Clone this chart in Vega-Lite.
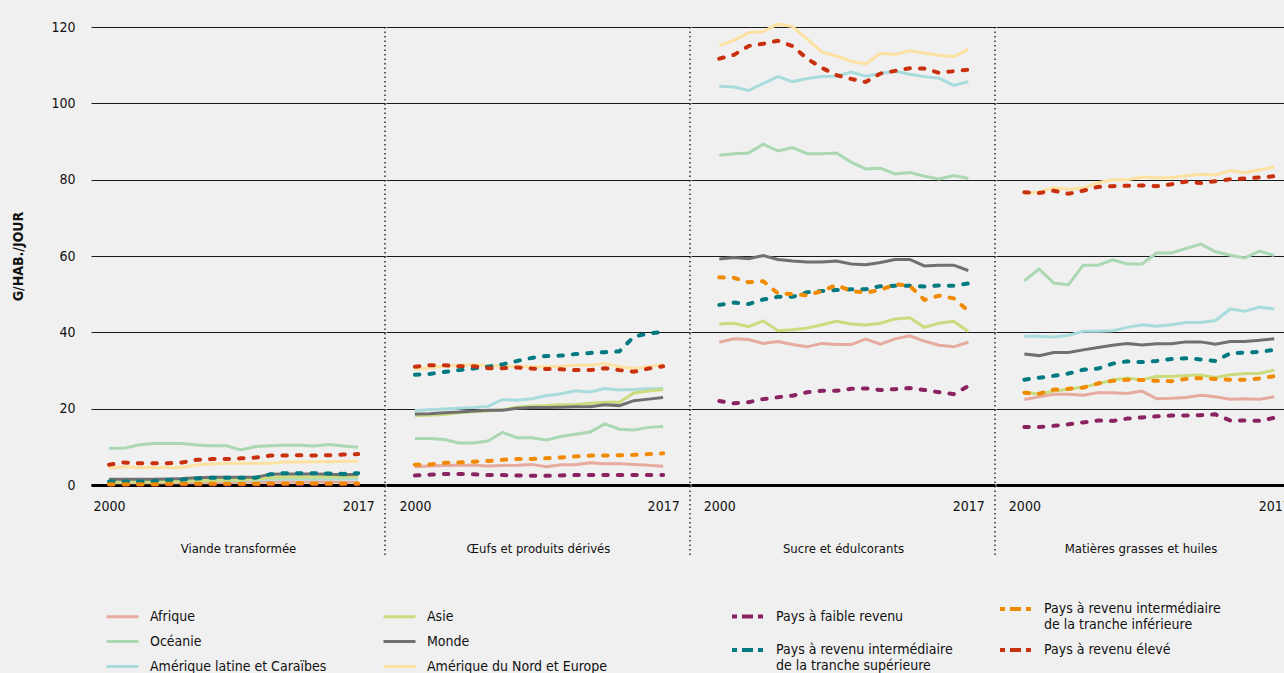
{
"$schema": "https://vega.github.io/schema/vega-lite/v6.json",
"background": "#f0f0f0",
"padding": {"left": 11, "top": 17, "right": -6, "bottom": 0},
"config": {
  "font": "DejaVu Sans Condensed, Roboto, sans-serif",
  "view": {"stroke": null},
  "axis": {"labelFont": "DejaVu Sans Condensed, Roboto, sans-serif", "titleFont": "DejaVu Sans Condensed, Roboto, sans-serif", "labelColor": "#111", "titleColor": "#111", "labelFontSize": 14},
  "axisY": {"grid": true, "gridColor": "#1a1a1a", "gridWidth": 1, "ticks": false, "domain": false, "labelPadding": 16},
  "axisX": {"grid": false, "ticks": false, "domain": true, "domainColor": "#000", "domainWidth": 3, "labelPadding": 14, "titlePadding": 29, "titleFontWeight": "normal", "titleFontSize": 13, "labelFlush": false},
  "legend": {"labelFont": "DejaVu Sans Condensed, Roboto, sans-serif", "labelFontSize": 14, "labelColor": "#111", "symbolType": "stroke", "symbolSize": 1024, "labelLimit": 400}
},
"datasets": {
  "series": [
    {"key": "afrique", "label": "Afrique", "group": "region"},
    {"key": "oceanie", "label": "Océanie", "group": "region"},
    {"key": "amlat", "label": "Amérique latine et Caraïbes", "group": "region"},
    {"key": "asie", "label": "Asie", "group": "region"},
    {"key": "monde", "label": "Monde", "group": "region"},
    {"key": "amnord", "label": "Amérique du Nord et Europe", "group": "region"},
    {"key": "faible", "label": "Pays à faible revenu", "group": "revenu"},
    {"key": "intsup", "label": "Pays à revenu intermédiaire de la tranche supérieure", "group": "revenu"},
    {"key": "intinf", "label": "Pays à revenu intermédiaire de la tranche inférieure", "group": "revenu"},
    {"key": "eleve", "label": "Pays à revenu élevé", "group": "revenu"}
  ],
  "vals": [
{"panel":"viande","year":2000,"afrique":0.6,"oceanie":9.6,"amlat":0.9,"asie":0.7,"monde":1.5,"amnord":4.4,"faible":0.1,"intsup":0.9,"intinf":0.2,"eleve":5.3},
{"panel":"viande","year":2001,"afrique":0.6,"oceanie":9.6,"amlat":0.9,"asie":0.7,"monde":1.5,"amnord":4.8,"faible":0.1,"intsup":0.9,"intinf":0.2,"eleve":5.9},
{"panel":"viande","year":2002,"afrique":0.6,"oceanie":10.5,"amlat":0.9,"asie":0.8,"monde":1.5,"amnord":4.6,"faible":0.1,"intsup":0.9,"intinf":0.2,"eleve":5.7},
{"panel":"viande","year":2003,"afrique":0.6,"oceanie":10.9,"amlat":1.0,"asie":0.8,"monde":1.5,"amnord":4.6,"faible":0.1,"intsup":1.0,"intinf":0.2,"eleve":5.7},
{"panel":"viande","year":2004,"afrique":0.6,"oceanie":10.9,"amlat":1.0,"asie":0.9,"monde":1.6,"amnord":4.6,"faible":0.1,"intsup":1.3,"intinf":0.3,"eleve":5.7},
{"panel":"viande","year":2005,"afrique":0.6,"oceanie":10.9,"amlat":1.1,"asie":1.0,"monde":1.7,"amnord":4.6,"faible":0.1,"intsup":1.4,"intinf":0.3,"eleve":5.9},
{"panel":"viande","year":2006,"afrique":0.6,"oceanie":10.5,"amlat":1.1,"asie":1.1,"monde":1.9,"amnord":5.3,"faible":0.1,"intsup":1.7,"intinf":0.3,"eleve":6.6},
{"panel":"viande","year":2007,"afrique":0.6,"oceanie":10.3,"amlat":1.2,"asie":1.2,"monde":2.0,"amnord":5.5,"faible":0.1,"intsup":1.9,"intinf":0.3,"eleve":6.8},
{"panel":"viande","year":2008,"afrique":0.7,"oceanie":10.3,"amlat":1.2,"asie":1.3,"monde":2.0,"amnord":5.7,"faible":0.1,"intsup":1.9,"intinf":0.3,"eleve":6.8},
{"panel":"viande","year":2009,"afrique":0.7,"oceanie":9.2,"amlat":1.2,"asie":1.4,"monde":2.0,"amnord":5.7,"faible":0.1,"intsup":1.9,"intinf":0.3,"eleve":7.0},
{"panel":"viande","year":2010,"afrique":0.7,"oceanie":10.1,"amlat":1.3,"asie":1.5,"monde":2.0,"amnord":5.7,"faible":0.1,"intsup":1.9,"intinf":0.3,"eleve":7.2},
{"panel":"viande","year":2011,"afrique":0.7,"oceanie":10.3,"amlat":1.5,"asie":1.9,"monde":2.8,"amnord":5.7,"faible":0.1,"intsup":2.8,"intinf":0.4,"eleve":7.7},
{"panel":"viande","year":2012,"afrique":0.8,"oceanie":10.4,"amlat":1.6,"asie":2.0,"monde":2.9,"amnord":6.0,"faible":0.2,"intsup":3.1,"intinf":0.4,"eleve":7.7},
{"panel":"viande","year":2013,"afrique":0.8,"oceanie":10.4,"amlat":1.6,"asie":2.0,"monde":2.9,"amnord":6.0,"faible":0.2,"intsup":3.1,"intinf":0.5,"eleve":7.8},
{"panel":"viande","year":2014,"afrique":0.8,"oceanie":10.2,"amlat":1.6,"asie":2.0,"monde":2.9,"amnord":6.1,"faible":0.2,"intsup":3.1,"intinf":0.4,"eleve":7.7},
{"panel":"viande","year":2015,"afrique":0.8,"oceanie":10.6,"amlat":1.6,"asie":2.1,"monde":2.8,"amnord":6.1,"faible":0.2,"intsup":3.0,"intinf":0.4,"eleve":7.8},
{"panel":"viande","year":2016,"afrique":0.7,"oceanie":10.2,"amlat":1.6,"asie":2.1,"monde":2.7,"amnord":6.2,"faible":0.2,"intsup":2.9,"intinf":0.4,"eleve":8.0},
{"panel":"viande","year":2017,"afrique":0.7,"oceanie":9.9,"amlat":1.6,"asie":2.2,"monde":2.8,"amnord":6.2,"faible":0.2,"intsup":3.1,"intinf":0.4,"eleve":8.1},
{"panel":"oeufs","year":2000,"afrique":4.8,"oceanie":12.2,"amlat":19.5,"asie":18.2,"monde":18.6,"amnord":30.3,"faible":2.5,"intsup":28.9,"intinf":5.3,"eleve":31.0},
{"panel":"oeufs","year":2001,"afrique":5.0,"oceanie":12.2,"amlat":19.7,"asie":18.3,"monde":18.7,"amnord":30.7,"faible":2.7,"intsup":29.1,"intinf":5.4,"eleve":31.4},
{"panel":"oeufs","year":2002,"afrique":5.1,"oceanie":11.9,"amlat":19.9,"asie":18.5,"monde":18.9,"amnord":31.1,"faible":2.9,"intsup":29.6,"intinf":5.8,"eleve":31.4},
{"panel":"oeufs","year":2003,"afrique":5.2,"oceanie":11.0,"amlat":20.1,"asie":18.9,"monde":19.1,"amnord":31.4,"faible":2.9,"intsup":30.1,"intinf":5.9,"eleve":31.1},
{"panel":"oeufs","year":2004,"afrique":5.2,"oceanie":11.0,"amlat":20.3,"asie":19.2,"monde":19.4,"amnord":31.6,"faible":2.8,"intsup":30.5,"intinf":6.1,"eleve":31.1},
{"panel":"oeufs","year":2005,"afrique":5.0,"oceanie":11.5,"amlat":20.6,"asie":19.4,"monde":19.6,"amnord":31.3,"faible":2.6,"intsup":31.0,"intinf":6.3,"eleve":30.6},
{"panel":"oeufs","year":2006,"afrique":5.1,"oceanie":13.8,"amlat":22.4,"asie":19.7,"monde":19.6,"amnord":31.1,"faible":2.6,"intsup":31.6,"intinf":6.6,"eleve":30.6},
{"panel":"oeufs","year":2007,"afrique":5.2,"oceanie":12.4,"amlat":22.2,"asie":20.4,"monde":20.1,"amnord":31.1,"faible":2.5,"intsup":32.5,"intinf":6.8,"eleve":30.8},
{"panel":"oeufs","year":2008,"afrique":5.4,"oceanie":12.4,"amlat":22.6,"asie":20.7,"monde":20.3,"amnord":31.0,"faible":2.4,"intsup":33.3,"intinf":6.8,"eleve":30.5},
{"panel":"oeufs","year":2009,"afrique":4.8,"oceanie":11.8,"amlat":23.4,"asie":20.8,"monde":20.3,"amnord":31.0,"faible":2.4,"intsup":33.8,"intinf":7.0,"eleve":30.4},
{"panel":"oeufs","year":2010,"afrique":5.3,"oceanie":12.7,"amlat":23.9,"asie":21.0,"monde":20.4,"amnord":31.1,"faible":2.5,"intsup":33.9,"intinf":7.2,"eleve":30.3},
{"panel":"oeufs","year":2011,"afrique":5.3,"oceanie":13.3,"amlat":24.7,"asie":21.1,"monde":20.5,"amnord":31.4,"faible":2.6,"intsup":34.3,"intinf":7.5,"eleve":30.1},
{"panel":"oeufs","year":2012,"afrique":5.8,"oceanie":13.9,"amlat":24.4,"asie":21.4,"monde":20.5,"amnord":31.4,"faible":2.6,"intsup":34.6,"intinf":7.7,"eleve":30.1},
{"panel":"oeufs","year":2013,"afrique":5.6,"oceanie":16.0,"amlat":25.3,"asie":21.7,"monde":21.0,"amnord":31.8,"faible":2.6,"intsup":34.8,"intinf":7.7,"eleve":30.6},
{"panel":"oeufs","year":2014,"afrique":5.6,"oceanie":14.6,"amlat":24.9,"asie":21.7,"monde":20.8,"amnord":31.0,"faible":2.6,"intsup":35.0,"intinf":7.8,"eleve":30.1},
{"panel":"oeufs","year":2015,"afrique":5.4,"oceanie":14.4,"amlat":25.0,"asie":24.1,"monde":22.1,"amnord":30.5,"faible":2.6,"intsup":38.9,"intinf":7.9,"eleve":29.7},
{"panel":"oeufs","year":2016,"afrique":5.2,"oceanie":15.1,"amlat":25.2,"asie":24.6,"monde":22.5,"amnord":31.0,"faible":2.6,"intsup":39.7,"intinf":8.1,"eleve":30.5},
{"panel":"oeufs","year":2017,"afrique":4.9,"oceanie":15.3,"amlat":25.3,"asie":25.0,"monde":22.9,"amnord":31.6,"faible":2.6,"intsup":40.1,"intinf":8.3,"eleve":31.1},
{"panel":"sucre","year":2000,"afrique":37.4,"oceanie":86.4,"amlat":104.5,"asie":42.2,"monde":59.2,"amnord":115.2,"faible":22.0,"intsup":47.2,"intinf":54.4,"eleve":111.7},
{"panel":"sucre","year":2001,"afrique":38.3,"oceanie":86.8,"amlat":104.3,"asie":42.4,"monde":59.6,"amnord":116.5,"faible":21.4,"intsup":47.8,"intinf":54.3,"eleve":112.7},
{"panel":"sucre","year":2002,"afrique":38.1,"oceanie":87.0,"amlat":103.4,"asie":41.5,"monde":59.3,"amnord":118.5,"faible":21.7,"intsup":47.4,"intinf":53.1,"eleve":115.0},
{"panel":"sucre","year":2003,"afrique":37.1,"oceanie":89.3,"amlat":105.2,"asie":43.0,"monde":60.1,"amnord":118.8,"faible":22.5,"intsup":48.6,"intinf":53.4,"eleve":115.6},
{"panel":"sucre","year":2004,"afrique":37.6,"oceanie":87.5,"amlat":107.0,"asie":40.4,"monde":59.1,"amnord":120.8,"faible":23.0,"intsup":49.3,"intinf":50.2,"eleve":116.4},
{"panel":"sucre","year":2005,"afrique":36.8,"oceanie":88.4,"amlat":105.7,"asie":40.7,"monde":58.7,"amnord":120.1,"faible":23.4,"intsup":49.3,"intinf":50.0,"eleve":115.0},
{"panel":"sucre","year":2006,"afrique":36.2,"oceanie":86.8,"amlat":106.5,"asie":41.1,"monde":58.4,"amnord":116.8,"faible":24.3,"intsup":50.5,"intinf":49.7,"eleve":111.7},
{"panel":"sucre","year":2007,"afrique":37.1,"oceanie":86.8,"amlat":107.0,"asie":42.0,"monde":58.4,"amnord":113.4,"faible":24.7,"intsup":50.8,"intinf":50.8,"eleve":109.3},
{"panel":"sucre","year":2008,"afrique":36.8,"oceanie":87.0,"amlat":107.1,"asie":42.9,"monde":58.7,"amnord":112.4,"faible":24.7,"intsup":51.1,"intinf":52.4,"eleve":107.4},
{"panel":"sucre","year":2009,"afrique":36.8,"oceanie":84.6,"amlat":108.2,"asie":42.2,"monde":57.9,"amnord":111.0,"faible":25.2,"intsup":51.3,"intinf":50.8,"eleve":106.4},
{"panel":"sucre","year":2010,"afrique":38.2,"oceanie":82.8,"amlat":107.1,"asie":41.9,"monde":57.7,"amnord":110.3,"faible":25.3,"intsup":51.3,"intinf":50.4,"eleve":105.6},
{"panel":"sucre","year":2011,"afrique":36.9,"oceanie":83.0,"amlat":107.8,"asie":42.4,"monde":58.3,"amnord":113.1,"faible":24.9,"intsup":52.1,"intinf":51.1,"eleve":107.8},
{"panel":"sucre","year":2012,"afrique":38.3,"oceanie":81.5,"amlat":108.4,"asie":43.5,"monde":59.1,"amnord":112.8,"faible":25.1,"intsup":52.2,"intinf":52.6,"eleve":108.5},
{"panel":"sucre","year":2013,"afrique":39.1,"oceanie":81.9,"amlat":107.6,"asie":43.8,"monde":59.1,"amnord":113.8,"faible":25.4,"intsup":52.2,"intinf":52.2,"eleve":109.2},
{"panel":"sucre","year":2014,"afrique":37.7,"oceanie":80.9,"amlat":107.0,"asie":41.3,"monde":57.4,"amnord":113.2,"faible":24.9,"intsup":52.0,"intinf":48.5,"eleve":109.1},
{"panel":"sucre","year":2015,"afrique":36.6,"oceanie":80.2,"amlat":106.6,"asie":42.4,"monde":57.6,"amnord":112.6,"faible":24.3,"intsup":52.3,"intinf":49.6,"eleve":108.0},
{"panel":"sucre","year":2016,"afrique":36.2,"oceanie":81.1,"amlat":104.7,"asie":42.9,"monde":57.6,"amnord":112.2,"faible":23.8,"intsup":52.2,"intinf":48.9,"eleve":108.4},
{"panel":"sucre","year":2017,"afrique":37.4,"oceanie":80.3,"amlat":105.7,"asie":40.2,"monde":56.2,"amnord":114.2,"faible":25.9,"intsup":52.8,"intinf":45.6,"eleve":108.8},
{"panel":"graisses","year":2000,"afrique":22.4,"oceanie":53.5,"amlat":39.0,"asie":24.2,"monde":34.3,"amnord":76.4,"faible":15.2,"intsup":27.6,"intinf":24.2,"eleve":76.7},
{"panel":"graisses","year":2001,"afrique":23.1,"oceanie":56.6,"amlat":39.0,"asie":23.9,"monde":33.9,"amnord":76.8,"faible":15.2,"intsup":28.1,"intinf":23.9,"eleve":76.5},
{"panel":"graisses","year":2002,"afrique":23.8,"oceanie":52.9,"amlat":38.8,"asie":24.6,"monde":34.7,"amnord":77.9,"faible":15.5,"intsup":28.6,"intinf":25.0,"eleve":77.1},
{"panel":"graisses","year":2003,"afrique":23.8,"oceanie":52.5,"amlat":39.2,"asie":25.1,"monde":34.7,"amnord":77.5,"faible":15.9,"intsup":29.2,"intinf":25.2,"eleve":76.3},
{"panel":"graisses","year":2004,"afrique":23.5,"oceanie":57.6,"amlat":40.3,"asie":25.7,"monde":35.4,"amnord":77.8,"faible":16.4,"intsup":30.2,"intinf":25.5,"eleve":77.1},
{"panel":"graisses","year":2005,"afrique":24.2,"oceanie":57.6,"amlat":40.3,"asie":26.5,"monde":36.0,"amnord":79.2,"faible":16.9,"intsup":30.5,"intinf":26.6,"eleve":78.1},
{"panel":"graisses","year":2006,"afrique":24.2,"oceanie":59.0,"amlat":40.4,"asie":27.5,"monde":36.6,"amnord":80.0,"faible":16.8,"intsup":31.8,"intinf":27.3,"eleve":78.3},
{"panel":"graisses","year":2007,"afrique":24.0,"oceanie":57.9,"amlat":41.3,"asie":28.0,"monde":37.1,"amnord":80.0,"faible":17.4,"intsup":32.4,"intinf":27.6,"eleve":78.4},
{"panel":"graisses","year":2008,"afrique":24.6,"oceanie":57.9,"amlat":42.0,"asie":27.5,"monde":36.7,"amnord":80.7,"faible":17.7,"intsup":32.2,"intinf":27.5,"eleve":78.5},
{"panel":"graisses","year":2009,"afrique":22.6,"oceanie":60.8,"amlat":41.6,"asie":28.5,"monde":37.0,"amnord":80.5,"faible":18.0,"intsup":32.5,"intinf":27.3,"eleve":78.3},
{"panel":"graisses","year":2010,"afrique":22.7,"oceanie":60.8,"amlat":42.0,"asie":28.4,"monde":37.0,"amnord":80.5,"faible":18.2,"intsup":33.0,"intinf":27.2,"eleve":78.8},
{"panel":"graisses","year":2011,"afrique":22.9,"oceanie":62.0,"amlat":42.6,"asie":28.7,"monde":37.5,"amnord":81.0,"faible":18.2,"intsup":33.2,"intinf":27.8,"eleve":79.5},
{"panel":"graisses","year":2012,"afrique":23.5,"oceanie":63.1,"amlat":42.6,"asie":28.8,"monde":37.5,"amnord":81.4,"faible":18.3,"intsup":32.9,"intinf":28.0,"eleve":79.1},
{"panel":"graisses","year":2013,"afrique":23.1,"oceanie":61.1,"amlat":43.1,"asie":28.2,"monde":36.9,"amnord":81.2,"faible":18.5,"intsup":32.5,"intinf":27.8,"eleve":79.6},
{"panel":"graisses","year":2014,"afrique":22.5,"oceanie":60.2,"amlat":46.1,"asie":28.9,"monde":37.6,"amnord":82.4,"faible":16.9,"intsup":34.5,"intinf":27.6,"eleve":80.1},
{"panel":"graisses","year":2015,"afrique":22.6,"oceanie":59.5,"amlat":45.5,"asie":29.2,"monde":37.6,"amnord":81.8,"faible":16.9,"intsup":34.7,"intinf":27.6,"eleve":80.3},
{"panel":"graisses","year":2016,"afrique":22.5,"oceanie":61.3,"amlat":46.6,"asie":29.2,"monde":37.9,"amnord":82.6,"faible":16.8,"intsup":34.9,"intinf":27.9,"eleve":80.6},
{"panel":"graisses","year":2017,"afrique":23.1,"oceanie":60.1,"amlat":46.1,"asie":30.1,"monde":38.3,"amnord":83.3,"faible":17.6,"intsup":35.4,"intinf":28.5,"eleve":80.9}
  ]
},
"data": {"name": "vals"},
"transform": [
  {"fold": ["afrique","oceanie","amlat","asie","monde","amnord","faible","intsup","intinf","eleve"], "as": ["key", "value"]},
  {"lookup": "key", "from": {"data": {"name": "series"}, "key": "key", "fields": ["label", "group"]}}
],
"spacing": 0,
"resolve": {"scale": {"x": "independent"}},
"hconcat": [
  {
    "width": 294, "height": 458,
    "transform": [{"filter": "datum.panel == 'viande'"}],
    "encoding": {
      "x": {"field": "year", "type": "quantitative", "scale": {"domain": [1998.77, 2018.83], "nice": false, "zero": false}, "axis": {"values": [2000, 2017], "format": "d", "title": "Viande transformée"}},
      "y": {"field": "value", "type": "quantitative", "scale": {"domain": [0, 120], "nice": false}, "axis": {"values": [0, 20, 40, 60, 80, 100, 120], "title": "G/HAB./JOUR", "titleFontWeight": "bold", "titleFontSize": 14, "titlePadding": 25}}
    },
    "layer": [
      {"transform": [{"filter": "datum.group == 'region'"}], "mark": {"type": "line", "strokeWidth": 3},
       "encoding": {"color": {"field": "label", "type": "nominal",
         "scale": {"domain": ["Afrique", "Océanie", "Amérique latine et Caraïbes", "Asie", "Monde", "Amérique du Nord et Europe"], "range": ["#e6aa9e", "#a9d8b3", "#a8dcdc", "#cadc7e", "#707070", "#fde1a0"]},
         "legend": {"title": null, "orient": "none", "legendX": 14, "legendY": 572, "columns": 2, "columnPadding": 50, "rowPadding": 0, "symbolStrokeWidth": 3, "labelOffset": 10}}}},
      {"transform": [{"filter": "datum.group == 'revenu'"}], "mark": {"type": "line", "strokeWidth": 4, "strokeDash": [4.5, 10], "strokeCap": "round"},
       "encoding": {"stroke": {"field": "label", "type": "nominal",
         "scale": {"domain": ["Pays à faible revenu", "Pays à revenu intermédiaire de la tranche supérieure", "Pays à revenu intermédiaire de la tranche inférieure", "Pays à revenu élevé"], "range": ["#8b2262", "#007a80", "#f08a00", "#c8300e"]},
         "legend": {"title": null, "orient": "none", "legendX": 639, "legendY": 564, "columns": 2, "columnPadding": 39, "rowPadding": 0, "symbolStrokeWidth": 4, "symbolDash": [5, 5, 11, 5, 5, 100], "labelOffset": 10, "labelExpr": "split(replace(datum.label, ' de la tranche', '|de la tranche'), '|')"}}}},
      {"transform": [{"filter": "datum.key == 'afrique' && datum.year == 2000"}], "mark": {"type": "rule", "color": "#000", "strokeDash": [1.5, 3], "strokeWidth": 1.2},
       "encoding": {"x": {"datum": 2018.83}, "y": {"datum": 120}, "y2": {"datum": -19}}}
    ]
  },
  {
    "width": 304, "height": 458,
    "transform": [{"filter": "datum.panel == 'oeufs'"}],
    "encoding": {
      "x": {"field": "year", "type": "quantitative", "scale": {"domain": [1998.02, 2018.84], "nice": false, "zero": false}, "axis": {"values": [2000, 2017], "format": "d", "title": "Œufs et produits dérivés"}},
      "y": {"field": "value", "type": "quantitative", "scale": {"domain": [0, 120], "nice": false}, "axis": {"values": [0, 20, 40, 60, 80, 100, 120], "labels": false, "title": null}}
    },
    "layer": [
      {"transform": [{"filter": "datum.group == 'region'"}], "mark": {"type": "line", "strokeWidth": 3}, "encoding": {"color": {"field": "label", "type": "nominal"}}},
      {"transform": [{"filter": "datum.group == 'revenu'"}], "mark": {"type": "line", "strokeWidth": 4, "strokeDash": [4.5, 10], "strokeCap": "round"}, "encoding": {"stroke": {"field": "label", "type": "nominal"}}},
      {"transform": [{"filter": "datum.key == 'afrique' && datum.year == 2000"}], "mark": {"type": "rule", "color": "#000", "strokeDash": [1.5, 3], "strokeWidth": 1.2},
       "encoding": {"x": {"datum": 2018.84}, "y": {"datum": 120}, "y2": {"datum": -19}}}
    ]
  },
  {
    "width": 304, "height": 458,
    "transform": [{"filter": "datum.panel == 'sucre'"}],
    "encoding": {
      "x": {"field": "year", "type": "quantitative", "scale": {"domain": [1998.07, 2018.82], "nice": false, "zero": false}, "axis": {"values": [2000, 2017], "format": "d", "title": "Sucre et édulcorants"}},
      "y": {"field": "value", "type": "quantitative", "scale": {"domain": [0, 120], "nice": false}, "axis": {"values": [0, 20, 40, 60, 80, 100, 120], "labels": false, "title": null}}
    },
    "layer": [
      {"transform": [{"filter": "datum.group == 'region'"}], "mark": {"type": "line", "strokeWidth": 3}, "encoding": {"color": {"field": "label", "type": "nominal"}}},
      {"transform": [{"filter": "datum.group == 'revenu'"}], "mark": {"type": "line", "strokeWidth": 4, "strokeDash": [4.5, 10], "strokeCap": "round"}, "encoding": {"stroke": {"field": "label", "type": "nominal"}}},
      {"transform": [{"filter": "datum.key == 'afrique' && datum.year == 2000"}], "mark": {"type": "rule", "color": "#000", "strokeDash": [1.5, 3], "strokeWidth": 1.2},
       "encoding": {"x": {"datum": 2018.82}, "y": {"datum": 120}, "y2": {"datum": -19}}}
    ]
  },
  {
    "width": 289, "height": 458,
    "transform": [{"filter": "datum.panel == 'graisses'"}],
    "encoding": {
      "x": {"field": "year", "type": "quantitative", "scale": {"domain": [1998.07, 2017.73], "nice": false, "zero": false}, "axis": {"values": [2000, 2017], "format": "d", "title": "Matières grasses et huiles"}},
      "y": {"field": "value", "type": "quantitative", "scale": {"domain": [0, 120], "nice": false}, "axis": {"values": [0, 20, 40, 60, 80, 100, 120], "labels": false, "title": null}}
    },
    "layer": [
      {"transform": [{"filter": "datum.group == 'region'"}], "mark": {"type": "line", "strokeWidth": 3}, "encoding": {"color": {"field": "label", "type": "nominal"}}},
      {"transform": [{"filter": "datum.group == 'revenu'"}], "mark": {"type": "line", "strokeWidth": 4, "strokeDash": [4.5, 10], "strokeCap": "round"}, "encoding": {"stroke": {"field": "label", "type": "nominal"}}}
    ]
  }
]
}
